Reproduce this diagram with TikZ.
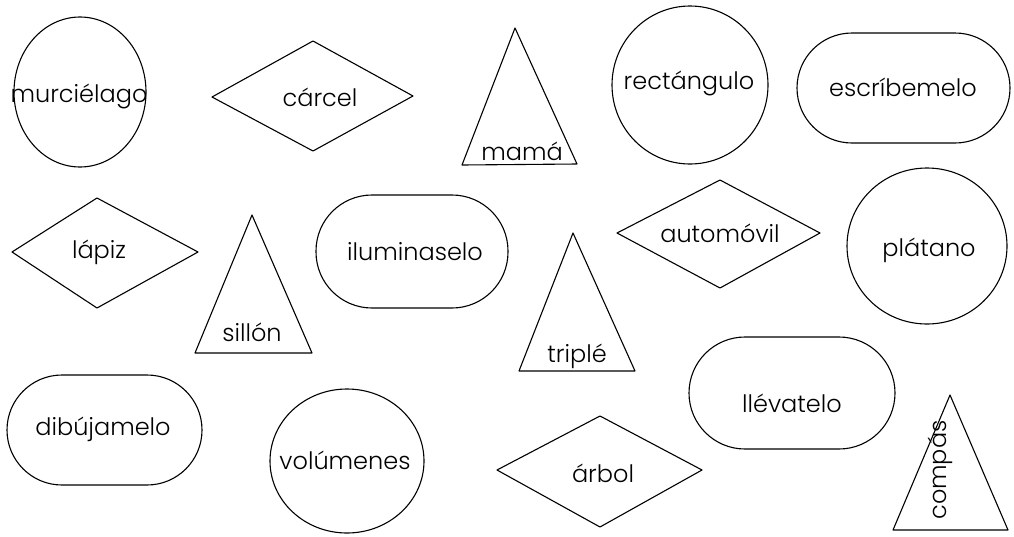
\documentclass[tikz,border=0pt]{standalone}
\usepackage{fontspec}
\setmainfont{Poppins Light}
\begin{document}
\begin{tikzpicture}[x=1pt,y=-1pt,
  shp/.style={draw=black,line width=1.1pt,line join=round},
  lbl/.style={font=\fontsize{24}{28}\selectfont,inner sep=0pt}]
\useasboundingbox (0,0) rectangle (1014,536);
% circles
\draw[shp] (80,92) ellipse [x radius=66, y radius=75];
\draw[shp] (690,85) ellipse [x radius=78, y radius=79];
\draw[shp] (927,246) ellipse [x radius=80, y radius=78];
\draw[shp] (347,461) ellipse [x radius=77, y radius=72];
% diamonds
\draw[shp] (212,97) -- (313,41) -- (413,96) -- (313,151) -- cycle;
\draw[shp] (12,252) -- (97,198) -- (198,252) -- (97,308) -- cycle;
\draw[shp] (617,233) -- (720,180) -- (820,233) -- (720,288) -- cycle;
\draw[shp] (497,470) -- (600,416) -- (702,470) -- (600,527) -- cycle;
% stadiums
\draw[shp,rounded corners=55pt] (797,33) rectangle (1010,143);
\draw[shp,rounded corners=56pt] (316,195) rectangle (508,308);
\draw[shp,rounded corners=55pt] (7,375) rectangle (202,485);
\draw[shp,rounded corners=56pt] (689,337) rectangle (895,449);
% triangles
\draw[shp] (515,28) -- (462,165) -- (577,164) -- cycle;
\draw[shp] (252,215) -- (195,353) -- (312,353) -- cycle;
\draw[shp] (573,233) -- (519,371) -- (635,371) -- cycle;
\draw[shp] (950,395) -- (893,530) -- (1008,530) -- cycle;
% labels
\node[lbl] (murcielago) at (79,96) {murciélago};
\node[lbl] (carcel) at (320,97) {cárcel};
\node[lbl] (mama) at (522,151) {mamá};
\node[lbl] (rectangulo) at (689,83) {rectángulo};
\node[lbl] (escribemelo) at (903,87) {escríbemelo};
\node[lbl] (lapiz) at (99,252) {lápiz};
\node[lbl] (sillon) at (252,332) {sillón};
\node[lbl] (iluminaselo) at (415,252) {iluminaselo};
\node[lbl] (triple) at (577,356) {triplé};
\node[lbl] (automovil) at (720,233) {automóvil};
\node[lbl] (platano) at (929,250) {plátano};
\node[lbl] (dibujamelo) at (103,429) {dibújamelo};
\node[lbl] (volumenes) at (345,460) {volúmenes};
\node[lbl] (arbol) at (603,473) {árbol};
\node[lbl] (llevatelo) at (792,403) {llévatelo};
\node[lbl,rotate=90] (compas) at (940,470) {compás};
\end{tikzpicture}
\end{document}
